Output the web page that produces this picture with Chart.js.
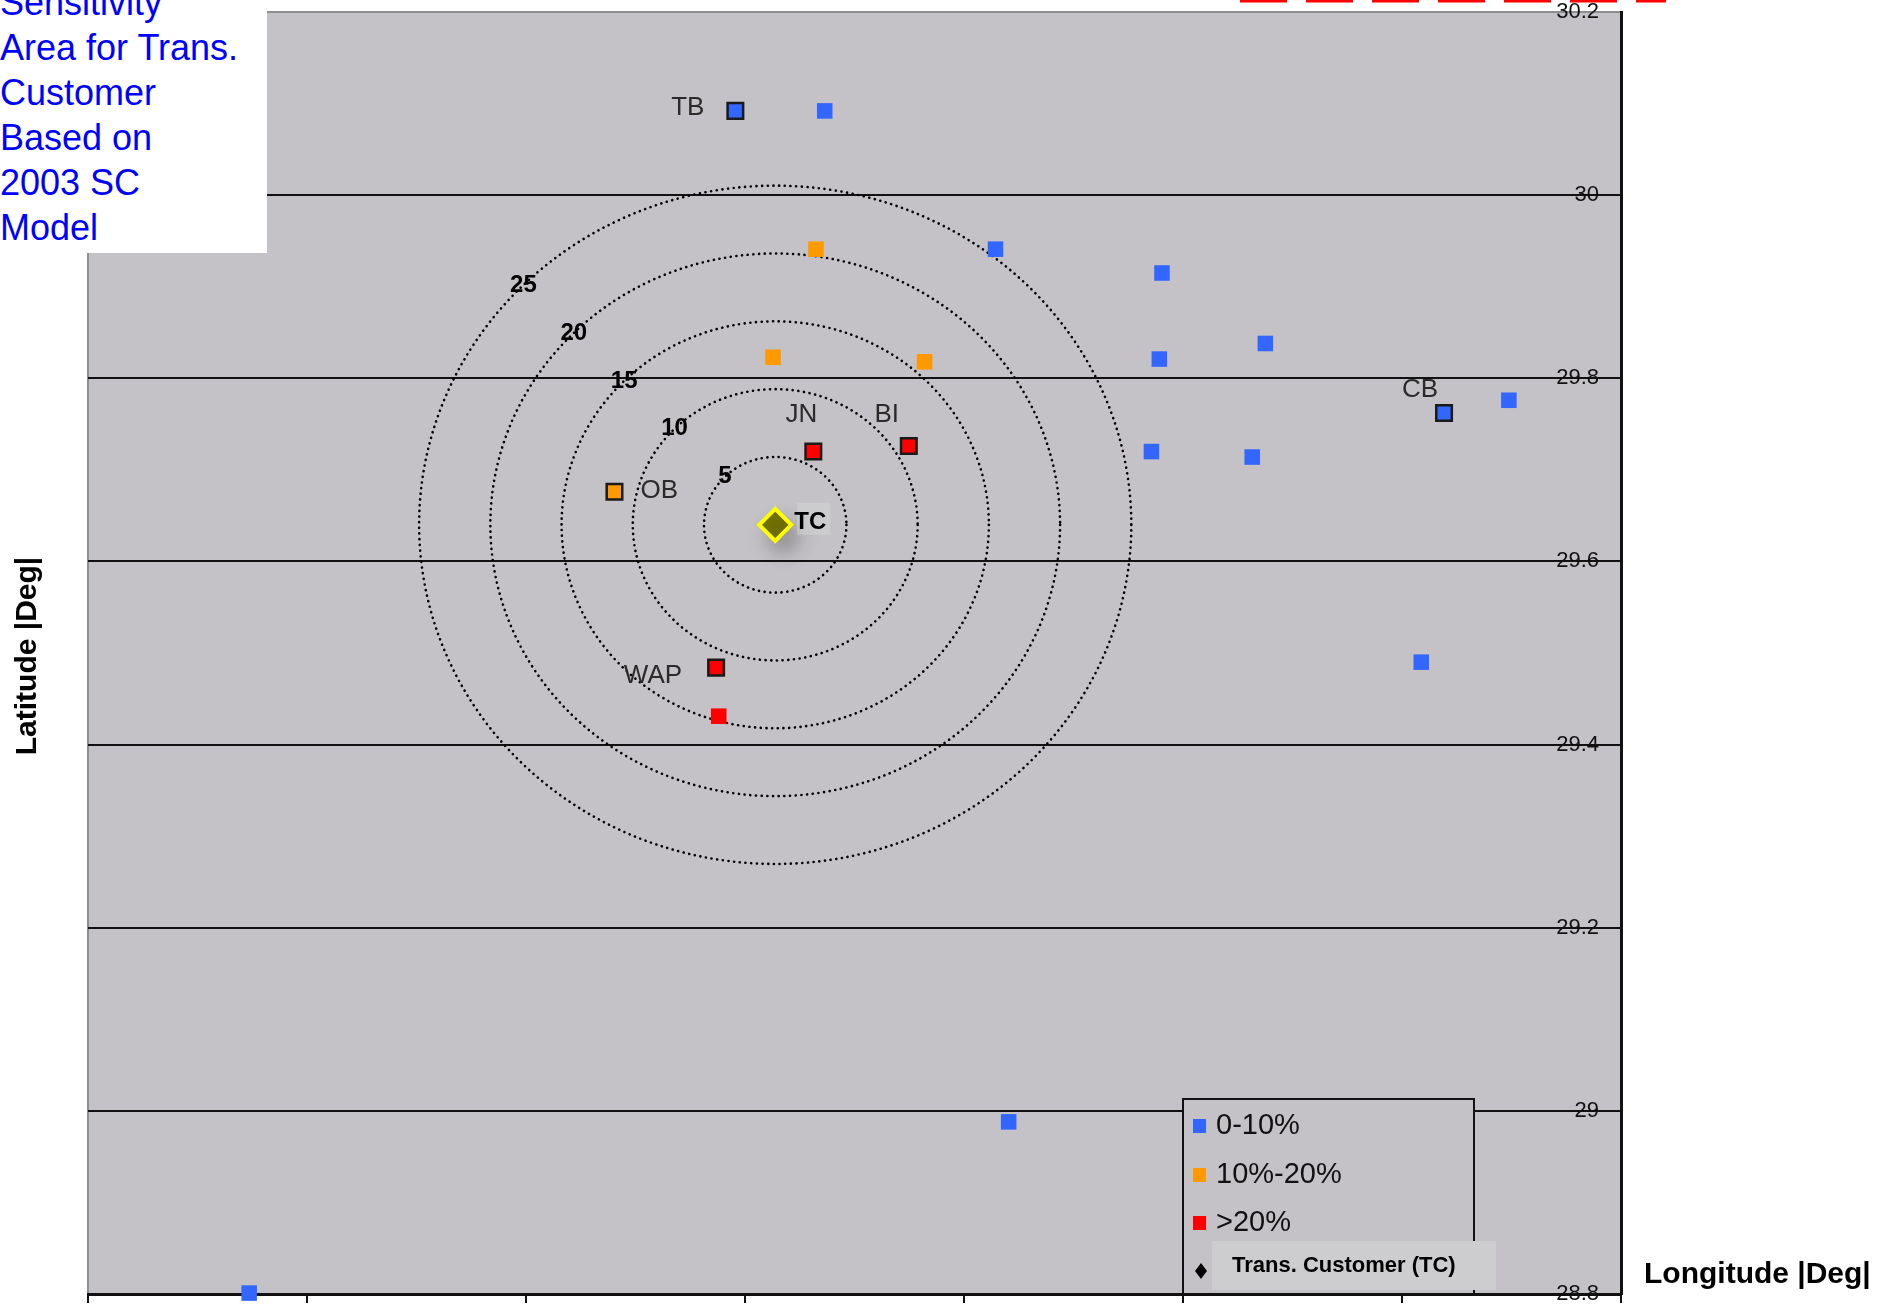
<!DOCTYPE html>
<html>
<head>
<meta charset="utf-8">
<script src="https://cdn.jsdelivr.net/npm/chart.js@4.4.1/dist/chart.umd.min.js"></script>
<style>
  html, body { margin: 0; padding: 0; background: #fff; }
  #wrap { position: relative; width: 1884px; height: 1312px; overflow: hidden; }
  #note { position: absolute; left: 0; top: 0; width: 267px; height: 253px; background: #fff; overflow: hidden; }
  #note div { margin-top: -20px; font: 36px/45px "Liberation Sans", Arial, sans-serif; color: #0000ff; white-space: nowrap; }
</style>
</head>
<body>
<div id="wrap">
  <canvas id="sensitivityChart" width="1884" height="1312"></canvas>
  <div id="note"><div>Sensitivity<br>Area for Trans.<br>Customer<br>Based on<br>2003 SC<br>Model</div></div>
</div>
<script>
// station positions (longitude / latitude, degrees)
const blueLon = [-95.261, -95.159, -94.964, -94.774, -94.777, -94.656, -94.452, -94.378, -94.786, -94.671, -94.478, -94.949, -95.816];
const blueLat = [30.092, 30.092, 29.941, 29.915, 29.821, 29.838, 29.762, 29.776, 29.720, 29.714, 29.490, 28.988, 28.801];
const blueNames = ['TB', '', '', '', '', '', 'CB', '', '', '', '', '', ''];

const orangeLon = [-95.169, -95.218, -95.045, -95.399];
const orangeLat = [29.941, 29.823, 29.818, 29.676];
const orangeNames = ['', '', '', 'OB'];

const redLon = [-95.172, -95.063, -95.283, -95.280];
const redLat = [29.720, 29.726, 29.484, 29.431];
const redNames = ['JN', 'BI', 'WAP', ''];

const tcLon = [-95.2155];
const tcLat = [29.640];
const tcNames = ['TC'];

// distance rings around TC (miles)
const ringMiles = [5, 10, 15, 20, 25];
const MILES_PER_DEG_LAT = 67.5;
const MILES_PER_DEG_LON = 61.5;

const latTicks = [28.8, 29, 29.2, 29.4, 29.6, 29.8, 30, 30.2];
const lonTicks = [-96, -95.75, -95.5, -95.25, -95, -94.75, -94.5, -94.25];

const seriesLabels = ['0-10%', '10%-20%', '>20%', 'Trans. Customer (TC)'];

function toPoints(lons, lats, names) {
  return lons.map((lon, i) => ({ x: lon, y: lats[i], name: names[i] }));
}

const FONT = '"Liberation Sans", Arial, sans-serif';

const labelPlacement = {
  TB: { dx: -31, dy: -3, align: 'right' },
  CB: { dx: -24, dy: -23, align: 'center' },
  OB: { dx: 26, dy: -1, align: 'left' },
  JN: { dx: -12, dy: -37, align: 'center' },
  BI: { dx: -22, dy: -31, align: 'center' },
  WAP: { dx: -34, dy: 8, align: 'right' },
  TC: { dx: 19, dy: -2, align: 'left', bold: true }
};

const backdrop = {
  id: 'backdrop',
  beforeDraw(chart) {
    const { ctx, chartArea: a } = chart;
    ctx.save();
    ctx.fillStyle = '#c4c2c6';
    ctx.fillRect(a.left, a.top, a.right - a.left, a.bottom - a.top);
    ctx.strokeStyle = '#8e8e8e';
    ctx.lineWidth = 2;
    ctx.beginPath();
    ctx.moveTo(a.left, a.bottom);
    ctx.lineTo(a.left, a.top);
    ctx.lineTo(a.right, a.top);
    ctx.stroke();
    ctx.restore();
  }
};

const rings = {
  id: 'rings',
  beforeDatasetsDraw(chart) {
    const { ctx } = chart;
    const xs = chart.scales.x, ys = chart.scales.y;
    const cx = xs.getPixelForValue(tcLon[0]);
    const cy = ys.getPixelForValue(tcLat[0]);
    ctx.save();
    ringMiles.forEach(r => {
      const rx = xs.getPixelForValue(tcLon[0] + r / MILES_PER_DEG_LON) - cx;
      const ry = cy - ys.getPixelForValue(tcLat[0] + r / MILES_PER_DEG_LAT);
      ctx.beginPath();
      ctx.setLineDash([0.1, 5.6]);
      ctx.lineCap = 'round';
      ctx.lineWidth = 2.6;
      ctx.strokeStyle = '#000';
      ctx.ellipse(cx, cy, rx, ry, 0, 0, Math.PI * 2);
      ctx.stroke();
      ctx.setLineDash([]);
      ctx.font = 'bold 24px ' + FONT;
      ctx.fillStyle = '#000';
      ctx.textAlign = 'center';
      ctx.textBaseline = 'middle';
      ctx.fillText(String(r), cx - rx * Math.SQRT1_2, cy - ry * Math.SQRT1_2);
    });
    ctx.restore();
  },
  beforeDatasetDraw(chart, args) {
    if (args.index === 3) {
      const ctx = chart.ctx;
      ctx.save();
      ctx.shadowColor = 'rgba(60,60,60,0.35)';
      ctx.shadowBlur = 18;
      ctx.shadowOffsetX = 8;
      ctx.shadowOffsetY = 12;
    }
  },
  afterDatasetDraw(chart, args) {
    if (args.index === 3) chart.ctx.restore();
  }
};

const annotations = {
  id: 'annotations',
  afterDraw(chart) {
    const { ctx, chartArea: a } = chart;
    ctx.save();

    // station names
    chart.data.datasets.forEach((ds, di) => {
      const meta = chart.getDatasetMeta(di);
      ds.data.forEach((p, i) => {
        const place = labelPlacement[p.name];
        if (!place) return;
        const el = meta.data[i];
        const tx = el.x + place.dx, ty = el.y + place.dy;
        ctx.font = (place.bold ? 'bold 24px ' : '26px ') + FONT;
        if (place.bold) {
          ctx.fillStyle = 'rgba(215,215,215,0.45)';
          ctx.fillRect(el.x + 22, el.y - 22, 33, 32);
        }
        ctx.fillStyle = place.bold ? '#000' : '#2a2a2a';
        ctx.textAlign = place.align;
        ctx.textBaseline = 'middle';
        ctx.fillText(p.name, tx, ty);
      });
    });

    // legend box
    const lx = 1183, lr = 1474, ly = 1099;
    ctx.fillStyle = '#c4c2c6';
    ctx.fillRect(lx, ly, lr - lx, a.bottom - ly - 2);
    ctx.strokeStyle = '#111';
    ctx.lineWidth = 2;
    ctx.beginPath();
    ctx.moveTo(lx, a.bottom);
    ctx.lineTo(lx, ly);
    ctx.lineTo(lr, ly);
    ctx.lineTo(lr, a.bottom);
    ctx.stroke();

    const rowY = [1126, 1175, 1223];
    const swatch = ['#3366ff', '#ff9900', '#ff0000'];
    rowY.forEach((y, i) => {
      ctx.fillStyle = swatch[i];
      ctx.fillRect(1193, y - 7, 13, 14);
      ctx.fillStyle = '#111';
      ctx.font = '29px ' + FONT;
      ctx.textAlign = 'left';
      ctx.textBaseline = 'middle';
      ctx.fillText(chart.data.datasets[i].label, 1216, y);
    });
    ctx.fillStyle = '#cdcdcf';
    ctx.fillRect(1212, 1241, 284, 49);
    ctx.fillStyle = '#000';
    ctx.beginPath();
    ctx.moveTo(1201, 1263);
    ctx.lineTo(1207, 1271);
    ctx.lineTo(1201, 1279);
    ctx.lineTo(1195, 1271);
    ctx.closePath();
    ctx.fill();
    ctx.font = 'bold 22px ' + FONT;
    ctx.fillText(chart.data.datasets[3].label, 1232, 1266);

    // axis titles
    ctx.font = 'bold 30px ' + FONT;
    ctx.fillStyle = '#000';
    ctx.textAlign = 'left';
    ctx.fillText('Longitude |Deg|', 1644, 1275);
    ctx.save();
    ctx.translate(28, 656);
    ctx.rotate(-Math.PI / 2);
    ctx.textAlign = 'center';
    ctx.fillText('Latitude |Deg|', 0, 0);
    ctx.restore();

    // red dashed edge at top
    ctx.strokeStyle = '#ff0000';
    ctx.lineWidth = 3;
    ctx.setLineDash([47, 19]);
    ctx.beginPath();
    ctx.moveTo(1240, 1);
    ctx.lineTo(1666, 1);
    ctx.stroke();
    ctx.restore();
  }
};

const named = c => c.raw && c.raw.name;

function squareSeries(label, color, lons, lats, names) {
  return {
    label: label,
    data: toPoints(lons, lats, names),
    pointStyle: 'rect',
    pointRadius: 11,
    pointHoverRadius: 11,
    pointBackgroundColor: color,
    pointBorderColor: c => named(c) ? '#1a1a1a' : color,
    pointBorderWidth: c => named(c) ? 2.5 : 0,
    clip: false
  };
}

const ctx = document.getElementById('sensitivityChart').getContext('2d');
const sensitivityChart = new Chart(ctx, {
  type: 'scatter',
  data: {
    datasets: [
      squareSeries(seriesLabels[0], '#3366ff', blueLon, blueLat, blueNames),
      squareSeries(seriesLabels[1], '#ff9900', orangeLon, orangeLat, orangeNames),
      squareSeries(seriesLabels[2], '#ff0000', redLon, redLat, redNames),
      {
        label: seriesLabels[3],
        data: toPoints(tcLon, tcLat, tcNames),
        pointStyle: 'rectRot',
        pointRadius: 16,
        pointHoverRadius: 16,
        pointBackgroundColor: '#727200',
        pointBorderColor: '#ffff00',
        pointBorderWidth: 4,
        clip: false
      }
    ]
  },
  options: {
    responsive: false,
    animation: false,
    events: [],
    layout: { autoPadding: false, padding: { left: 88, top: 12, right: 0, bottom: 0 } },
    plugins: {
      legend: { display: false },
      tooltip: { enabled: false }
    },
    scales: {
      x: {
        type: 'linear',
        position: 'bottom',
        min: lonTicks[0],
        max: lonTicks[lonTicks.length - 1],
        afterBuildTicks: s => { s.ticks = lonTicks.map(v => ({ value: v })); },
        afterFit: s => { s.height = 18; s.paddingLeft = 0; s.paddingRight = 0; },
        ticks: { display: false },
        grid: { drawOnChartArea: false, drawTicks: true, tickLength: 9, color: '#111', lineWidth: 2 },
        border: { color: '#111', width: 3 }
      },
      y: {
        type: 'linear',
        position: 'right',
        min: latTicks[0],
        max: latTicks[latTicks.length - 1],
        afterBuildTicks: s => { s.ticks = latTicks.map(v => ({ value: v })); },
        afterFit: s => { s.width = 263; s.paddingTop = 0; s.paddingBottom = 0; },
        ticks: {
          mirror: true,
          padding: -22,
          color: '#111',
          font: { family: FONT, size: 22 },
          callback: v => String(Math.round(v * 10) / 10)
        },
        grid: {
          drawTicks: false,
          lineWidth: 2,
          color: c => (c.tick && c.tick.value > 30.1) ? 'rgba(0,0,0,0)' : '#111'
        },
        border: { color: '#111', width: 3 }
      }
    }
  },
  plugins: [backdrop, rings, annotations]
});
</script>
</body>
</html>
